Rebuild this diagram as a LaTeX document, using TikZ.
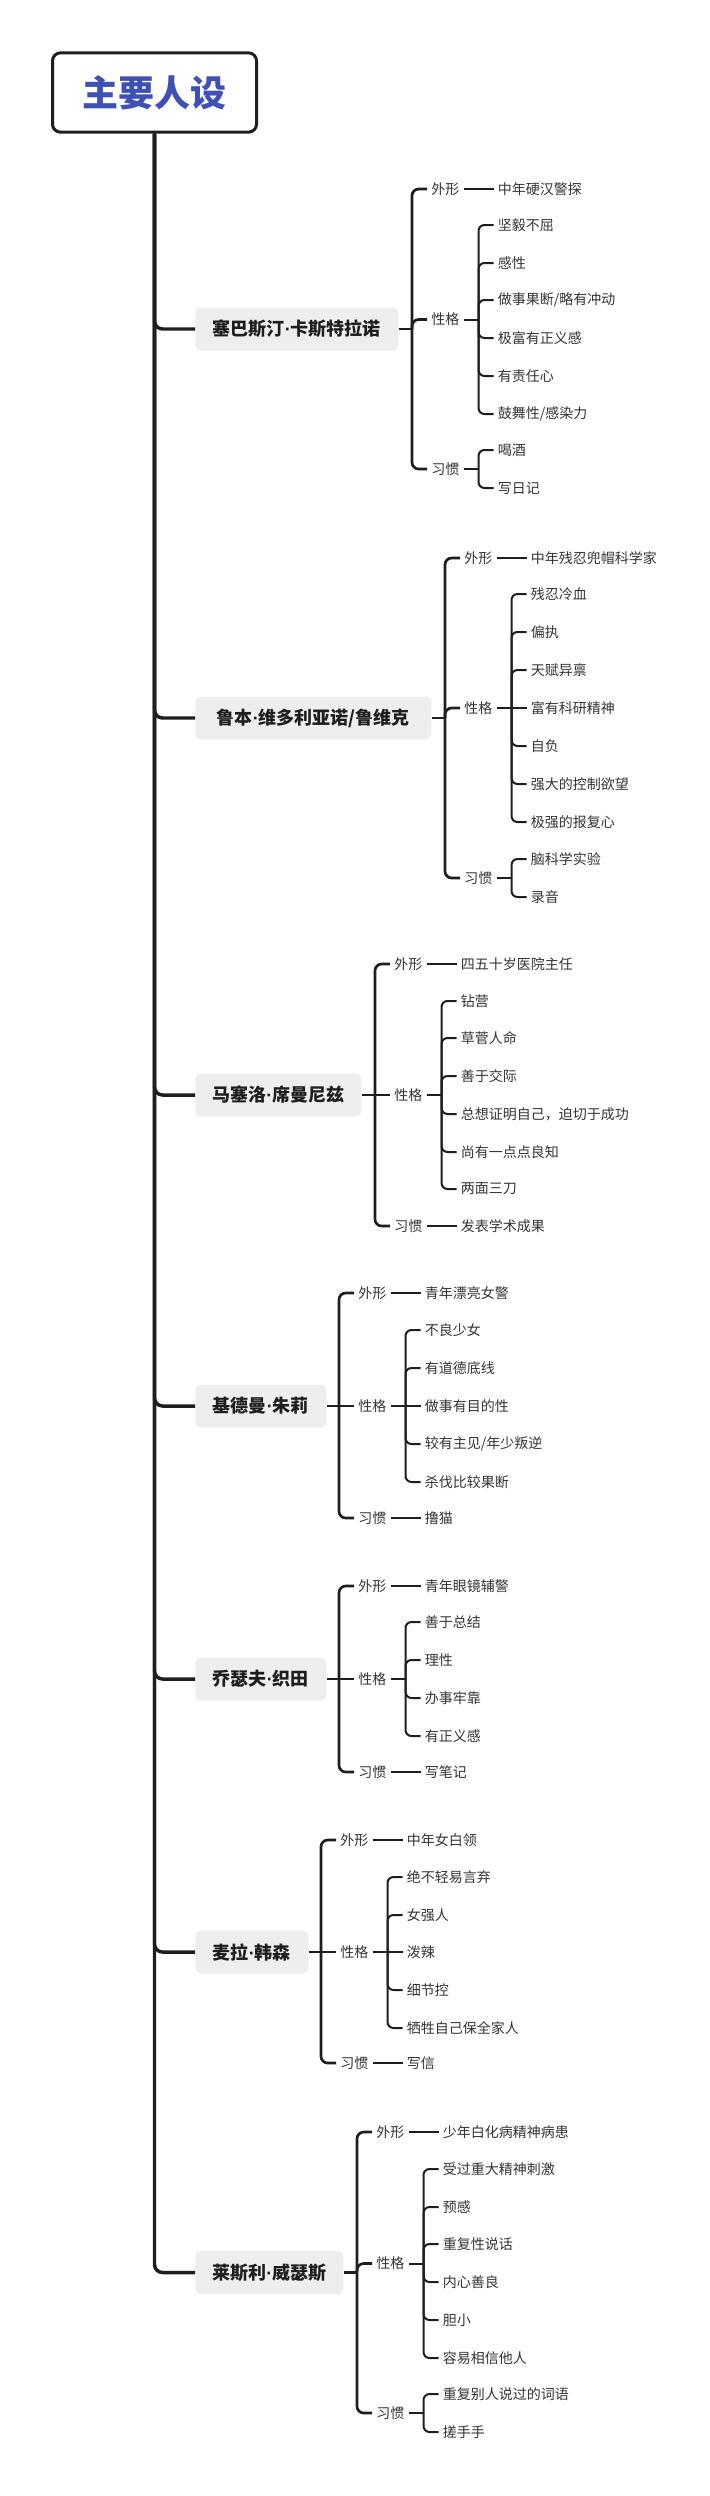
\documentclass[tikz,border=0pt]{standalone}
\usepackage{fontspec}
\setmainfont{Noto Sans CJK SC}
\newfontfamily\dotfont{Liberation Sans}
\newcommand\mdot{{\dotfont\bfseries\textperiodcentered}}
\definecolor{linec}{HTML}{1E1E1E}
\definecolor{titleblue}{HTML}{3F51B5}
\definecolor{boxgray}{HTML}{EEEEEE}
\definecolor{boldtxt}{HTML}{1E1E1E}
\definecolor{txtc}{HTML}{333333}
\tikzset{
  l1/.style={draw=linec, line width=2.6pt, rounded corners=6pt},
  l2/.style={draw=linec, line width=2pt, rounded corners=5pt},
  l3/.style={draw=linec, line width=1.5pt, rounded corners=4.5pt},
  rootbox/.style={draw=linec, line width=2.25pt, rounded corners=6pt, fill=white,
    minimum width=153pt, minimum height=59.5pt, inner sep=0pt,
    font=\fontsize{27}{32}\selectfont\bfseries, text=titleblue},
  charbox/.style={fill=boxgray, rounded corners=4pt, minimum height=32.25pt, inner sep=0pt,
    anchor=west, font=\fontsize{13.5}{16}\selectfont\bfseries, text=boldtxt},
  cattxt/.style={anchor=west, inner xsep=3pt, inner ysep=1pt,
    font=\fontsize{10.5}{12}\selectfont, text=txtc},
  leaftxt/.style={anchor=west, inner xsep=3pt, inner ysep=1pt,
    font=\fontsize{10.5}{12}\selectfont, text=txtc}
}
\begin{document}
\begin{tikzpicture}[x=0.75pt,y=-0.75pt]
\useasboundingbox (0,0) rectangle (710,2496);
\node[rootbox] (root) at (154.5,92.5) {主要人设};

% ---------- characters ----------
\node[charbox, minimum width=152.25pt] (b1) at (195,329) {塞巴斯汀\mdot 卡斯特拉诺};
\node[charbox, minimum width=177pt]    (b2) at (195,718) {鲁本\mdot 维多利亚诺/鲁维克};
\node[charbox, minimum width=124.5pt]  (b3) at (195,1095) {马塞洛\mdot 席曼尼兹};
\node[charbox, minimum width=98.25pt]  (b4) at (195,1406) {基德曼\mdot 朱莉};
\node[charbox, minimum width=98.25pt]  (b5) at (195,1679) {乔瑟夫\mdot 织田};
\node[charbox, minimum width=84.75pt]  (b6) at (195,1952) {麦拉\mdot 韩森};
\node[charbox, minimum width=111pt]    (b7) at (195,2272.5) {莱斯利\mdot 威瑟斯};
\foreach \b in {b1,b2,b3,b4,b5,b6,b7} \draw[l1] (root.south) |- (\b.west);

% ---------- section 1 ----------
\node[cattxt] (c1a) at (427,189) {外形};
\node[cattxt] (c1b) at (427,319.5) {性格};
\node[cattxt] (c1c) at (427,469) {习惯};
\coordinate (k1) at (412,329);
\draw[l2] (b1.east) -- (k1);
\draw[l2] (k1) |- (c1a.west);
\draw[l2] (k1) |- (c1b.west);
\draw[l2] (k1) |- (c1c.west);
\node[leaftxt] (l1a1) at (493.5,189) {中年硬汉警探};
\draw[l3] (c1a.east) -- (l1a1.west);
\coordinate (m1b) at (478.5,319.5);
\draw[l3] (c1b.east) -- (m1b);
\node[leaftxt] (l1b1) at (493.5,225) {坚毅不屈};
\node[leaftxt] (l1b2) at (493.5,263) {感性};
\node[leaftxt] (l1b3) at (493.5,300) {做事果断/略有冲动};
\node[leaftxt] (l1b4) at (493.5,338) {极富有正义感};
\node[leaftxt] (l1b5) at (493.5,376) {有责任心};
\node[leaftxt] (l1b6) at (493.5,414) {鼓舞性/感染力};
\foreach \n in {l1b1,l1b2,l1b3,l1b4,l1b5,l1b6} \draw[l3] (m1b) |- (\n.west);
\coordinate (m1c) at (478.5,469);
\draw[l3] (c1c.east) -- (m1c);
\node[leaftxt] (l1c1) at (493.5,450) {喝酒};
\node[leaftxt] (l1c2) at (493.5,488) {写日记};
\foreach \n in {l1c1,l1c2} \draw[l3] (m1c) |- (\n.west);

% ---------- section 2 ----------
\node[cattxt] (c2a) at (460,558) {外形};
\node[cattxt] (c2b) at (460,708) {性格};
\node[cattxt] (c2c) at (460,878) {习惯};
\coordinate (k2) at (445,718);
\draw[l2] (b2.east) -- (k2);
\draw[l2] (k2) |- (c2a.west);
\draw[l2] (k2) |- (c2b.west);
\draw[l2] (k2) |- (c2c.west);
\node[leaftxt] (l2a1) at (526.5,558) {中年残忍兜帽科学家};
\draw[l3] (c2a.east) -- (l2a1.west);
\coordinate (m2b) at (511.5,708);
\node[leaftxt] (l2b1) at (526.5,594) {残忍冷血};
\node[leaftxt] (l2b2) at (526.5,632) {偏执};
\node[leaftxt] (l2b3) at (526.5,670) {天赋异禀};
\node[leaftxt] (l2b4) at (526.5,708) {富有科研精神};
\node[leaftxt] (l2b5) at (526.5,746) {自负};
\node[leaftxt] (l2b6) at (526.5,784) {强大的控制欲望};
\node[leaftxt] (l2b7) at (526.5,822) {极强的报复心};
\draw[l3] (c2b.east) -- (l2b4.west);
\foreach \n in {l2b1,l2b2,l2b3,l2b5,l2b6,l2b7} \draw[l3] (m2b) |- (\n.west);
\coordinate (m2c) at (511.5,878);
\draw[l3] (c2c.east) -- (m2c);
\node[leaftxt] (l2c1) at (526.5,859) {脑科学实验};
\node[leaftxt] (l2c2) at (526.5,897) {录音};
\foreach \n in {l2c1,l2c2} \draw[l3] (m2c) |- (\n.west);

% ---------- section 3 ----------
\node[cattxt] (c3a) at (390,964) {外形};
\node[cattxt] (c3b) at (390,1095) {性格};
\node[cattxt] (c3c) at (390,1226) {习惯};
\coordinate (k3) at (375,1095);
\draw[l2] (b3.east) -- (c3b.west);
\draw[l2] (k3) |- (c3a.west);
\draw[l2] (k3) |- (c3c.west);
\node[leaftxt] (l3a1) at (456.5,964) {四五十岁医院主任};
\draw[l3] (c3a.east) -- (l3a1.west);
\coordinate (m3b) at (441.5,1095);
\draw[l3] (c3b.east) -- (m3b);
\node[leaftxt] (l3b1) at (456.5,1001) {钻营};
\node[leaftxt] (l3b2) at (456.5,1038) {草菅人命};
\node[leaftxt] (l3b3) at (456.5,1076) {善于交际};
\node[leaftxt] (l3b4) at (456.5,1114) {总想证明自己，迫切于成功};
\node[leaftxt] (l3b5) at (456.5,1152) {尚有一点点良知};
\node[leaftxt] (l3b6) at (456.5,1189) {两面三刀};
\foreach \n in {l3b1,l3b2,l3b3,l3b4,l3b5,l3b6} \draw[l3] (m3b) |- (\n.west);
\node[leaftxt] (l3c1) at (456.5,1226) {发表学术成果};
\draw[l3] (c3c.east) -- (l3c1.west);

% ---------- section 4 ----------
\node[cattxt] (c4a) at (354,1293) {外形};
\node[cattxt] (c4b) at (354,1406) {性格};
\node[cattxt] (c4c) at (354,1518) {习惯};
\coordinate (k4) at (339,1406);
\draw[l2] (b4.east) -- (c4b.west);
\draw[l2] (k4) |- (c4a.west);
\draw[l2] (k4) |- (c4c.west);
\node[leaftxt] (l4a1) at (420.5,1293) {青年漂亮女警};
\draw[l3] (c4a.east) -- (l4a1.west);
\coordinate (m4b) at (405.5,1406);
\node[leaftxt] (l4b1) at (420.5,1330) {不良少女};
\node[leaftxt] (l4b2) at (420.5,1368) {有道德底线};
\node[leaftxt] (l4b3) at (420.5,1406) {做事有目的性};
\node[leaftxt] (l4b4) at (420.5,1444) {较有主见/年少叛逆};
\node[leaftxt] (l4b5) at (420.5,1482) {杀伐比较果断};
\draw[l3] (c4b.east) -- (l4b3.west);
\foreach \n in {l4b1,l4b2,l4b4,l4b5} \draw[l3] (m4b) |- (\n.west);
\node[leaftxt] (l4c1) at (420.5,1518) {撸猫};
\draw[l3] (c4c.east) -- (l4c1.west);

% ---------- section 5 ----------
\node[cattxt] (c5a) at (354,1586) {外形};
\node[cattxt] (c5b) at (354,1679) {性格};
\node[cattxt] (c5c) at (354,1772) {习惯};
\coordinate (k5) at (339,1679);
\draw[l2] (b5.east) -- (c5b.west);
\draw[l2] (k5) |- (c5a.west);
\draw[l2] (k5) |- (c5c.west);
\node[leaftxt] (l5a1) at (420.5,1586) {青年眼镜辅警};
\draw[l3] (c5a.east) -- (l5a1.west);
\coordinate (m5b) at (405.5,1679);
\draw[l3] (c5b.east) -- (m5b);
\node[leaftxt] (l5b1) at (420.5,1622) {善于总结};
\node[leaftxt] (l5b2) at (420.5,1660) {理性};
\node[leaftxt] (l5b3) at (420.5,1698) {办事牢靠};
\node[leaftxt] (l5b4) at (420.5,1736) {有正义感};
\foreach \n in {l5b1,l5b2,l5b3,l5b4} \draw[l3] (m5b) |- (\n.west);
\node[leaftxt] (l5c1) at (420.5,1772) {写笔记};
\draw[l3] (c5c.east) -- (l5c1.west);

% ---------- section 6 ----------
\node[cattxt] (c6a) at (336,1840) {外形};
\node[cattxt] (c6b) at (336,1952) {性格};
\node[cattxt] (c6c) at (336,2063) {习惯};
\coordinate (k6) at (321,1952);
\draw[l2] (b6.east) -- (c6b.west);
\draw[l2] (k6) |- (c6a.west);
\draw[l2] (k6) |- (c6c.west);
\node[leaftxt] (l6a1) at (402.5,1840) {中年女白领};
\draw[l3] (c6a.east) -- (l6a1.west);
\coordinate (m6b) at (387.5,1952);
\node[leaftxt] (l6b1) at (402.5,1877) {绝不轻易言弃};
\node[leaftxt] (l6b2) at (402.5,1915) {女强人};
\node[leaftxt] (l6b3) at (402.5,1952) {泼辣};
\node[leaftxt] (l6b4) at (402.5,1990) {细节控};
\node[leaftxt] (l6b5) at (402.5,2028) {牺牲自己保全家人};
\draw[l3] (c6b.east) -- (l6b3.west);
\foreach \n in {l6b1,l6b2,l6b4,l6b5} \draw[l3] (m6b) |- (\n.west);
\node[leaftxt] (l6c1) at (402.5,2063) {写信};
\draw[l3] (c6c.east) -- (l6c1.west);

% ---------- section 7 ----------
\node[cattxt] (c7a) at (372,2132) {外形};
\node[cattxt] (c7b) at (372,2263.5) {性格};
\node[cattxt] (c7c) at (372,2413) {习惯};
\coordinate (k7) at (357,2272.5);
\draw[l2] (b7.east) -- (k7);
\draw[l2] (k7) |- (c7a.west);
\draw[l2] (k7) |- (c7b.west);
\draw[l2] (k7) |- (c7c.west);
\node[leaftxt] (l7a1) at (438.5,2132) {少年白化病精神病患};
\draw[l3] (c7a.east) -- (l7a1.west);
\coordinate (m7b) at (423.5,2263.5);
\draw[l3] (c7b.east) -- (m7b);
\node[leaftxt] (l7b1) at (438.5,2169) {受过重大精神刺激};
\node[leaftxt] (l7b2) at (438.5,2207) {预感};
\node[leaftxt] (l7b3) at (438.5,2244) {重复性说话};
\node[leaftxt] (l7b4) at (438.5,2282) {内心善良};
\node[leaftxt] (l7b5) at (438.5,2320) {胆小};
\node[leaftxt] (l7b6) at (438.5,2358) {容易相信他人};
\foreach \n in {l7b1,l7b2,l7b3,l7b4,l7b5,l7b6} \draw[l3] (m7b) |- (\n.west);
\coordinate (m7c) at (423.5,2413);
\draw[l3] (c7c.east) -- (m7c);
\node[leaftxt] (l7c1) at (438.5,2394) {重复别人说过的词语};
\node[leaftxt] (l7c2) at (438.5,2432) {搓手手};
\foreach \n in {l7c1,l7c2} \draw[l3] (m7c) |- (\n.west);
\end{tikzpicture}
\end{document}
